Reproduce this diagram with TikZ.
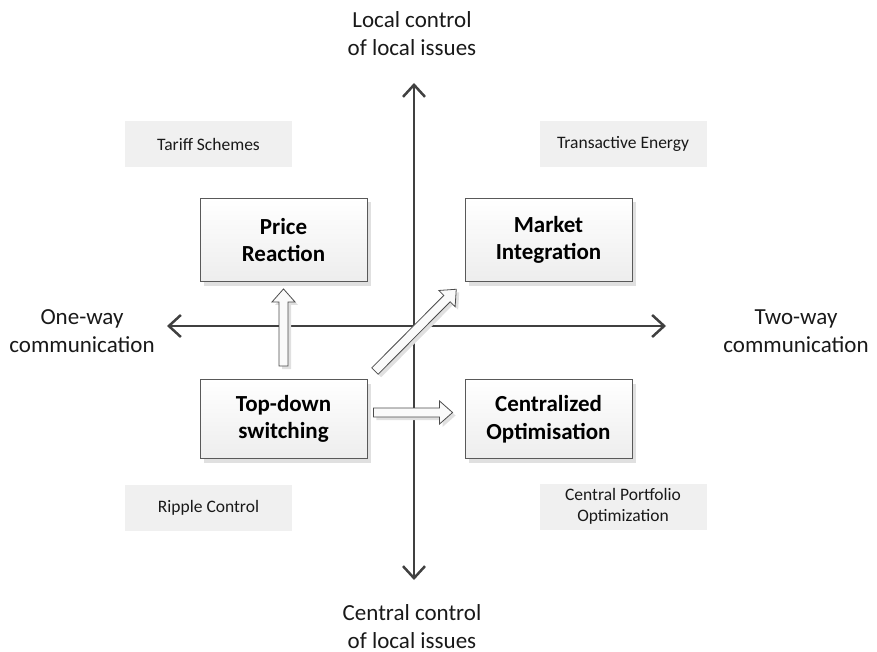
\documentclass[tikz,border=0pt]{standalone}
\usepackage{fontspec}
\setmainfont{Carlito}
\usetikzlibrary{arrows.meta,calc,shadows}
\tikzset{
  axis/.style={line width=2.5pt, draw=black!75, {Straight Barb[length=12pt,width=22pt]}-{Straight Barb[length=12pt,width=22pt]}},
  axislabel/.style={align=center, inner sep=0pt, font=\fontsize{23}{28}\selectfont, text=black!90},
  mainbox/.style={draw=black!65, line width=0.9pt, top color=white, bottom color=black!7,
    minimum width=167pt, minimum height=83pt, align=center,
    font=\fontsize{23}{27.5}\selectfont\bfseries,
    drop shadow={shadow xshift=4pt, shadow yshift=-4pt, fill=black!12, opacity=1}},
  graybox/.style={fill=black!6, minimum width=167pt, minimum height=46pt, align=center,
    font=\fontsize{17.5}{21.5}\selectfont, text=black!90},
  barrow/.style={draw=black!70, line width=0.8pt, fill=black!2,
    drop shadow={shadow xshift=3pt, shadow yshift=-3pt, fill=black!12, opacity=1}}
}
\newcommand\blockarrow[2]{%
  \path[barrow] let \p1=(#1), \p2=(#2),
      \n1={atan2(\y2-\y1,\x2-\x1)}, \n2={veclen(\x2-\x1,\y2-\y1)-13pt} in
    ($(\p1)+(\n1+90:4.5pt)$) --
    ($(\p1)+(\n1:\n2)+(\n1+90:4.5pt)$) --
    ($(\p1)+(\n1:\n2)+(\n1+90:11.5pt)$) --
    (\p2) --
    ($(\p1)+(\n1:\n2)+(\n1-90:11.5pt)$) --
    ($(\p1)+(\n1:\n2)+(\n1-90:4.5pt)$) --
    ($(\p1)+(\n1-90:4.5pt)$) -- cycle;}
\begin{document}
\begin{tikzpicture}[x=1pt,y=-1pt]
\useasboundingbox (0,0) rectangle (877,652);
% axes
\coordinate (top) at (414,83);
\coordinate (bot) at (414,580);
\coordinate (lft) at (167,326);
\coordinate (rgt) at (666,326);
\draw[axis] (bot) -- (top);
\draw[axis] (lft) -- (rgt);
% axis labels
\node[axislabel] (lt) at (412,33.5) {Local control\\of local issues};
\node[axislabel] (lb) at (412,627) {Central control\\of local issues};
\node[axislabel] (ll) at (82,331) {One-way\\communication};
\node[axislabel] (lr) at (796,331) {Two-way\\communication};
% gray boxes
\node[graybox] (ts) at (208.5,144) {Tariff Schemes};
\node[graybox] (te) at (623,144) {Transactive Energy};
\node[graybox] (rc) at (208.5,507.5) {Ripple Control};
\node[graybox] (cp) at (623,506.5) {Central Portfolio\\Optimization};
% main boxes
\node[mainbox] (pr) at (283.5,240) {Price\\Reaction};
\node[mainbox] (mi) at (548.5,240) {Market\\Integration};
\node[mainbox, minimum height=79pt] (td) at (283.5,419) {Top-down\\switching};
\node[mainbox, minimum height=79pt] (co) at (548.5,419) {Centralized\\Optimisation};
% block arrows
\coordinate (a1s) at ($(td.north)+(0,-13)$);
\coordinate (a1e) at ($(pr.south)+(0,7)$);
\coordinate (a2s) at ($(td.east)+(6,-6.5)$);
\coordinate (a2e) at ($(co.west)+(-12,-6.5)$);
\coordinate (a3s) at ($(td.north east)+(7.5,-8)$);
\coordinate (a3e) at ($(mi.south west)+(-8.3,7.3)$);
\blockarrow{a1s}{a1e}
\blockarrow{a2s}{a2e}
\blockarrow{a3s}{a3e}
\end{tikzpicture}
\end{document}
